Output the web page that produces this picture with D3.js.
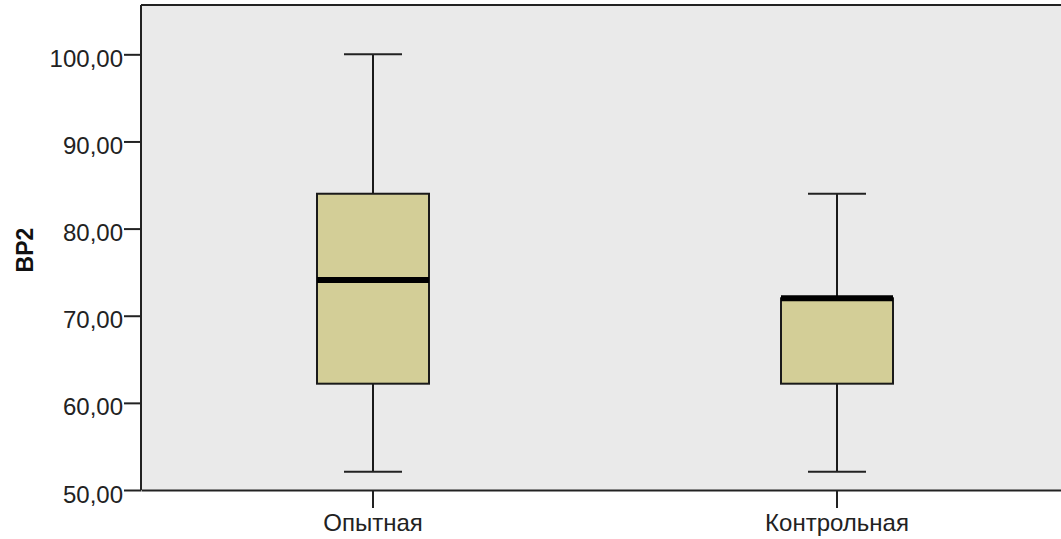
<!DOCTYPE html>
<html>
<head>
<meta charset="utf-8">
<script src="https://cdn.jsdelivr.net/npm/d3@7/dist/d3.min.js"></script>
<style>
  html, body { margin: 0; padding: 0; background: #ffffff; }
  svg { display: block; font-family: "Liberation Sans", Arial, sans-serif; }
</style>
</head>
<body>
<svg id="chart" width="1061" height="539"></svg>
<script>
// Box-plot summaries for BP2 by group
const groups = ["Опытная", "Контрольная"];
const mins    = [52.1, 52.1];
const q1s     = [62.2, 62.2];
const medians = [74.1, 72.0];
const q3s     = [84.0, 72.0];
const maxs    = [100.0, 84.0];
const yTicks  = [50, 60, 70, 80, 90, 100];
const yLabel  = "BP2";

const svg = d3.select("#chart");
const plot = { left: 141, top: 5, right: 1069, bottom: 490 };

const x = d3.scaleBand().domain(groups).range([plot.left, plot.right]).padding(0);
const y = d3.scaleLinear().domain([50, 105.66]).range([plot.bottom, plot.top]);

const fmt = v => d3.format(".2f")(v).replace(".", ",");

// plot background
svg.append("rect")
  .attr("x", plot.left).attr("y", plot.top)
  .attr("width", plot.right - plot.left).attr("height", plot.bottom - plot.top)
  .attr("fill", "#eaeaea");

// top frame line
svg.append("line")
  .attr("x1", plot.left).attr("x2", plot.right)
  .attr("y1", plot.top).attr("y2", plot.top)
  .attr("stroke", "#222").attr("stroke-width", 2);

const boxW = 112;
const capW = 58;

const data = groups.map((g, i) => ({
  g, min: mins[i], q1: q1s[i], med: medians[i], q3: q3s[i], max: maxs[i]
}));

const box = svg.append("g").selectAll("g").data(data).join("g")
  .attr("transform", d => `translate(${x(d.g) + x.bandwidth() / 2},0)`);

// whiskers
box.append("line")
  .attr("x1", 0).attr("x2", 0)
  .attr("y1", d => y(d.max)).attr("y2", d => y(d.q3))
  .attr("stroke", "#1a1a1a").attr("stroke-width", 2);
box.append("line")
  .attr("x1", 0).attr("x2", 0)
  .attr("y1", d => y(d.q1)).attr("y2", d => y(d.min))
  .attr("stroke", "#1a1a1a").attr("stroke-width", 2);
box.append("line")
  .attr("x1", -capW / 2).attr("x2", capW / 2)
  .attr("y1", d => y(d.max)).attr("y2", d => y(d.max))
  .attr("stroke", "#222").attr("stroke-width", 2);
box.append("line")
  .attr("x1", -capW / 2).attr("x2", capW / 2)
  .attr("y1", d => y(d.min)).attr("y2", d => y(d.min))
  .attr("stroke", "#222").attr("stroke-width", 2);

// boxes
box.append("rect")
  .attr("x", -boxW / 2).attr("width", boxW)
  .attr("y", d => y(d.q3)).attr("height", d => y(d.q1) - y(d.q3))
  .attr("fill", "#d3ce97").attr("stroke", "#1a1a1a").attr("stroke-width", 2);

// medians
box.append("line")
  .attr("x1", -boxW / 2).attr("x2", boxW / 2)
  .attr("y1", d => y(d.med)).attr("y2", d => y(d.med))
  .attr("stroke", "#000").attr("stroke-width", 6);

// y axis
const yAxis = svg.append("g")
  .attr("transform", `translate(${plot.left},0)`)
  .call(d3.axisLeft(y).tickValues(yTicks).tickFormat(fmt).tickSize(17).tickSizeOuter(0));
yAxis.select(".domain").attr("stroke", "#222").attr("stroke-width", 2)
  .attr("d", `M0,${plot.top}V${plot.bottom}`);
yAxis.selectAll(".tick line").attr("stroke", "#222").attr("stroke-width", 2);
yAxis.selectAll(".tick text")
  .attr("x", -18).attr("dy", "0.5em")
  .attr("font-size", 24).attr("fill", "#222")
  .attr("font-family", "Liberation Sans, Arial, sans-serif");

// x axis
const xAxis = svg.append("g")
  .attr("transform", `translate(0,${plot.bottom})`)
  .call(d3.axisBottom(x).tickSize(18).tickSizeOuter(0));
xAxis.select(".domain").attr("stroke", "#222").attr("stroke-width", 2);
xAxis.selectAll(".tick line").attr("stroke", "#222").attr("stroke-width", 2);
xAxis.selectAll(".tick text")
  .attr("y", 24).attr("dy", "0.71em")
  .attr("font-size", 24).attr("fill", "#222")
  .attr("font-family", "Liberation Sans, Arial, sans-serif");

// y axis title
svg.append("text")
  .attr("transform", `translate(33,250) rotate(-90)`)
  .attr("text-anchor", "middle")
  .attr("font-size", 23).attr("font-weight", "bold").attr("fill", "#111")
  .text(yLabel);
</script>
</body>
</html>
